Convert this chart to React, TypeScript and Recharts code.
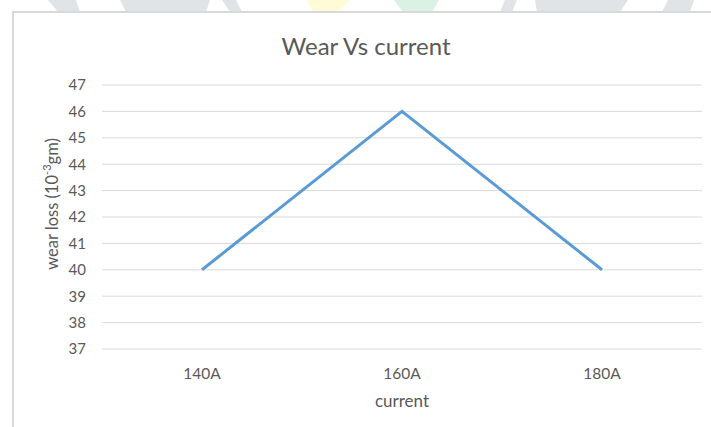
import React from "react";
import { LineChart, Line, XAxis, YAxis, CartesianGrid, Label } from "recharts";

const categories = ["140A", "160A", "180A"];
const wearLoss = [40, 46, 40];
const yTicks = [37, 38, 39, 40, 41, 42, 43, 44, 45, 46, 47];

const data = categories.map((c, i) => ({ current: c, wear: wearLoss[i] }));

const FONT = "Lato, 'Open Sans', sans-serif";
const TEXT = "#595959";

// faint decorative shapes peeking above the chart frame
const Backdrop = () => (
  <svg width={711} height={14} style={{ position: "absolute", left: 0, top: 0 }}>
    <polygon points="48,0 76,0 80,12 58,12" fill="#e0e4e7" />
    <polygon points="120,0 210,0 206,12 126,12" fill="#e0e4e7" />
    <polygon points="222,0 236,0 242,12 230,12" fill="#e0e4e7" />
    <polygon points="306,0 350,0 338,12 314,12" fill="#fffbd6" />
    <polygon points="394,0 439,0 432,12 403,12" fill="#d9f2e4" />
    <polygon points="505,0 517,0 512,12 500,12" fill="#e0e4e7" />
    <polygon points="535,0 628,0 620,12 537,12" fill="#e0e4e7" />
    <polygon points="668,0 694,0 690,12 662,12" fill="#e0e4e7" />
  </svg>
);

const YLabel = (props: any) => {
  const vb = props.viewBox || {};
  const cx = 52;
  const cy = vb.y + vb.height / 2 - 13;
  return (
    <text
      x={cx}
      y={cy}
      transform={`rotate(-90, ${cx}, ${cy})`}
      textAnchor="middle"
      dominantBaseline="central"
      fill={TEXT}
      fontSize={16.5}
      fontFamily={FONT}
    >
      wear loss (10
      <tspan fontSize={11} dy={-6}>-3</tspan>
      <tspan dy={6}>gm)</tspan>
    </text>
  );
};

export default function App() {
  return (
    <div
      style={{
        position: "absolute",
        left: 0,
        top: 0,
        width: 711,
        height: 427,
        background: "#ffffff",
        overflow: "hidden",
      }}
    >
      <Backdrop />
      <div
        style={{
          position: "absolute",
          left: 12,
          top: 11,
          width: 720,
          height: 430,
          border: "2px solid #d9d9d9",
          boxSizing: "border-box",
        }}
      />
      <div
        style={{
          position: "absolute",
          left: 0,
          top: 30,
          width: 732,
          textAlign: "center",
          fontFamily: FONT,
          fontSize: 24,
          lineHeight: "32px",
          color: TEXT,
        }}
      >
        Wear Vs current
      </div>
      <div style={{ position: "absolute", left: 0, top: 0 }}>
        <LineChart
          width={711}
          height={427}
          data={data}
          margin={{ top: 85, right: 9, bottom: 48, left: 42 }}
        >
          <CartesianGrid vertical={false} stroke="#d9d9d9" strokeWidth={1} />
          <XAxis
            dataKey="current"
            axisLine={false}
            tickLine={false}
            tickSize={0}
            tickMargin={19}
            height={30}
            padding={{ left: 100, right: 100 }}
            tick={{ fill: TEXT, fontSize: 15.5, fontFamily: FONT }}
          >
            <Label
              value="current"
              position="bottom"
              offset={16}
              fill={TEXT}
              fontSize={17}
              fontFamily={FONT}
            />
          </XAxis>
          <YAxis
            domain={[37, 47]}
            ticks={yTicks}
            interval={0}
            axisLine={false}
            tickLine={false}
            tickSize={0}
            tickMargin={16}
            width={60}
            tick={{ fill: TEXT, fontSize: 15, fontFamily: FONT }}
          >
            <Label content={<YLabel />} />
          </YAxis>
          <Line
            type="linear"
            dataKey="wear"
            stroke="#5b9bd5"
            strokeWidth={3}
            dot={false}
            activeDot={false}
            isAnimationActive={false}
          />
        </LineChart>
      </div>
    </div>
  );
}
